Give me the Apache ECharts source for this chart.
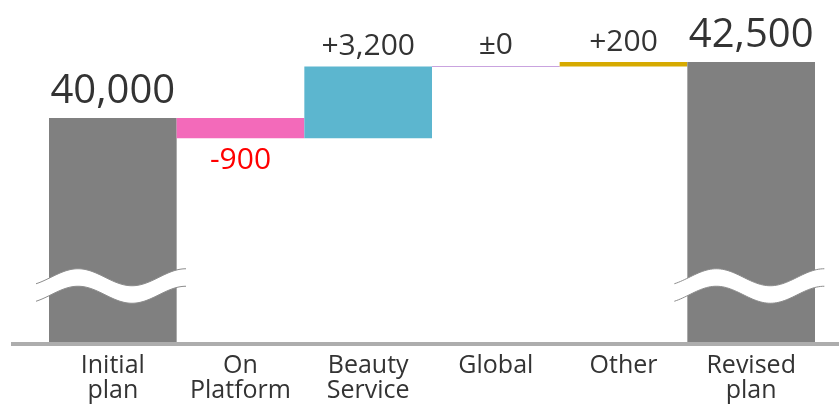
<!DOCTYPE html>
<html>
<head>
<meta charset="utf-8">
<script src="https://cdn.jsdelivr.net/npm/echarts@6/dist/echarts.min.js"></script>
<style>
  html, body { margin: 0; padding: 0; background: #fff; }
  #chart { width: 839px; height: 406px; }
</style>
</head>
<body>
<div id="chart"></div>
<script>
// Plan bridge: initial plan, changes by segment, revised plan
const categories = ['Initial\nplan', 'On\nPlatform', 'Beauty\nService', 'Global', 'Other', 'Revised\nplan'];
const initialPlan = 40000;
const deltas = [-900, 3200, 0, 200];
const revisedPlan = 42500;
const deltaColors = ['#F36ABA', '#5CB6CF', '#C9A3DF', '#D6AA00'];
const totalColor = '#808080';
const axisMin = 30000;
const axisMax = 45000;
const breakValue = 32500;

const FONT = "'Open Sans', 'Noto Sans', sans-serif";

function fmt(v) { return Math.abs(v).toLocaleString('en-US'); }
function totalLabel(v) {
  return { show: true, position: 'top', distance: 6, formatter: fmt(v), fontSize: 40, color: '#333', fontFamily: FONT };
}
function deltaLabel(d) {
  const text = d > 0 ? '+' + fmt(d) : d < 0 ? '-' + fmt(d) : '\u00B10';
  return {
    show: true,
    position: d < 0 ? 'bottom' : 'top',
    distance: d < 0 ? 7 : 5,
    formatter: text,
    fontSize: 30,
    color: d < 0 ? '#FF0000' : '#333',
    fontFamily: FONT
  };
}

// Build invisible offsets and visible segments for the waterfall
const baseData = [];
const barData = [];
baseData.push(0);
barData.push({ value: initialPlan, itemStyle: { color: totalColor }, label: totalLabel(initialPlan) });
let running = initialPlan;
deltas.forEach((d, i) => {
  const lo = d < 0 ? running + d : running;
  baseData.push(lo);
  barData.push({
    value: Math.abs(d),
    itemStyle: d === 0
      ? { color: deltaColors[i], borderColor: deltaColors[i], borderWidth: 1.2 }
      : { color: deltaColors[i] },
    label: deltaLabel(d)
  });
  running += d;
});
baseData.push(0);
barData.push({ value: revisedPlan, itemStyle: { color: totalColor }, label: totalLabel(revisedPlan) });

const chart = echarts.init(document.getElementById('chart'), null, { renderer: 'canvas' });
chart.setOption({
  animation: false,
  grid: { left: 49, right: 24, top: 6, bottom: 64 },
  xAxis: {
    type: 'category',
    data: categories,
    axisLine: { show: false },
    axisTick: { show: false },
    axisLabel: { color: '#333', fontSize: 25, fontFamily: FONT, lineHeight: 25, margin: 11, interval: 0 }
  },
  yAxis: {
    type: 'value', min: axisMin, max: axisMax, show: false,
    splitLine: { show: false }
  },
  series: [
    { type: 'bar', stack: 'w', data: baseData, itemStyle: { color: 'transparent' }, barCategoryGap: 0, silent: true },
    { type: 'bar', stack: 'w', data: barData, barCategoryGap: 0 }
  ]
});

// Axis baseline and the axis-break waves on the total bars
function drawDecor() {
  const yBase = chart.convertToPixel({ yAxisIndex: 0 }, axisMin);
  const yBreak = chart.convertToPixel({ yAxisIndex: 0 }, breakValue);
  const step = chart.convertToPixel({ xAxisIndex: 0 }, 1) - chart.convertToPixel({ xAxisIndex: 0 }, 0);
  const graphics = [{
    type: 'line', z: 10,
    shape: { x1: 11, y1: yBase + 2, x2: 839, y2: yBase + 2 },
    style: { stroke: '#ADADAD', lineWidth: 4 }
  }];
  [0, categories.length - 1].forEach(idx => {
    const cx = chart.convertToPixel({ xAxisIndex: 0 }, idx);
    const left = cx - step / 2 - 13;
    const right = cx + step / 2 + 10;
    const amp = 8.5, period = 108, gap = 17.5, crest = cx - step / 2 + 29;
    const top = [], bot = [];
    for (let x = left; x <= right + 0.01; x += 2) {
      const y = yBreak - gap / 2 - amp * Math.cos(2 * Math.PI * (x - crest) / period);
      top.push([x, y]);
      bot.push([x, y + gap]);
    }
    graphics.push({
      type: 'polygon', z: 20,
      shape: { points: top.concat(bot.slice().reverse()) },
      style: { fill: '#fff' }
    });
    graphics.push({ type: 'polyline', z: 21, shape: { points: top }, style: { stroke: '#8C8C8C', lineWidth: 1, fill: null } });
    graphics.push({ type: 'polyline', z: 21, shape: { points: bot }, style: { stroke: '#8C8C8C', lineWidth: 1, fill: null } });
  });
  chart.setOption({ graphic: graphics });
}
drawDecor();
</script>
</body>
</html>
